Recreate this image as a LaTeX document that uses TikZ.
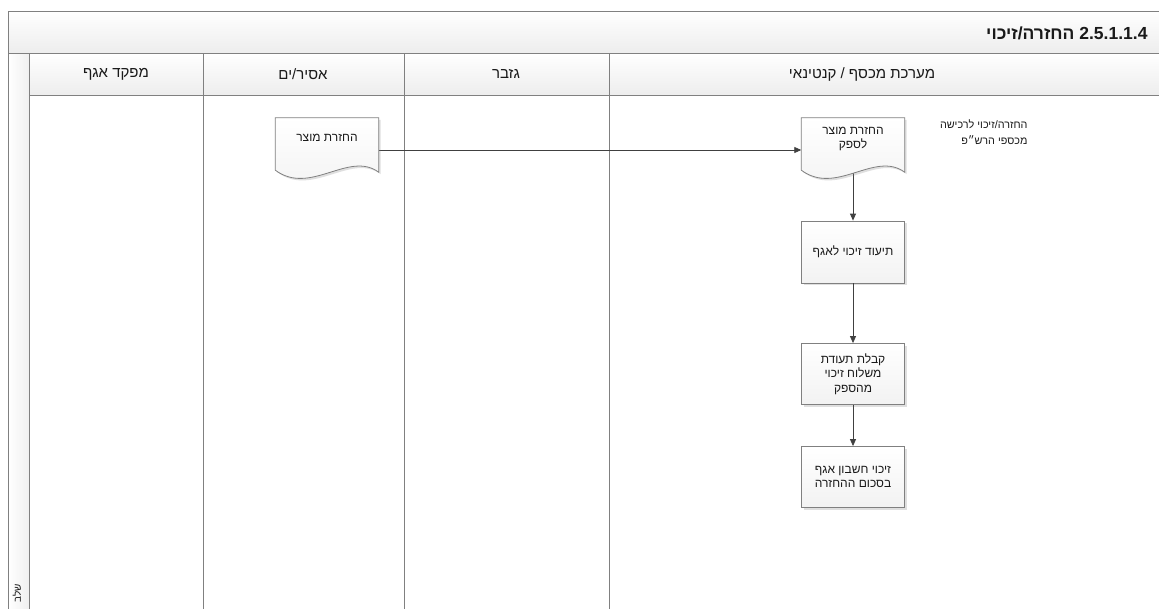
\documentclass[tikz,border=0pt]{standalone}
\usepackage{fontspec}
\setmainfont{Liberation Sans}
\newfontfamily\heb[Script=Hebrew]{Liberation Sans}
\TeXXeTstate=1
\usetikzlibrary{arrows.meta,shadows,calc}
\definecolor{linegray}{HTML}{808080}
\definecolor{arrowgray}{HTML}{404040}
\definecolor{textgray}{HTML}{1A1A1A}
\begin{document}
\begin{tikzpicture}[x=1pt,y=-1pt,
  frame/.style={draw=linegray,line width=0.9pt},
  bar/.style={frame,top color=white,bottom color=gray!14},
  lanetext/.style={font=\heb\fontsize{15}{17}\selectfont,text=textgray},
  boxtext/.style={font=\heb\fontsize{12}{14.5}\selectfont,text=textgray,align=center},
  procbox/.style={draw=linegray,line width=0.8pt,top color=white,bottom color=gray!10,
    minimum width=103pt,inner sep=0pt,boxtext,
    drop shadow={shadow xshift=2pt,shadow yshift=-2pt,opacity=0.25}},
  docnode/.style={minimum width=103pt,minimum height=52pt,inner sep=0pt},
  docshape/.style={draw=linegray,line width=0.8pt,top color=white,bottom color=gray!10,
    drop shadow={shadow xshift=2pt,shadow yshift=-2pt,opacity=0.25}},
  arr/.style={draw=arrowgray,line width=0.8pt,-{Triangle[length=7pt,width=6pt]}}
]
\useasboundingbox (0,0) rectangle (1159,608);
\fill[white] (0,0) rectangle (1159,608);
% title bar
\path[bar] (8,11) rectangle (1175,53);
\node[anchor=east,font=\heb\bfseries\fontsize{17.5}{19}\selectfont,text=textgray] (title) at (1151,33)
  {\beginR\beginL 2.5.1.1.4\endL{} החזרה/זיכוי\endR};
% left strip and header row
\path[frame,left color=white,right color=gray!12] (8,53) rectangle (29,615);
\path[bar] (29,53) rectangle (1175,95);
% lane separators
\draw[frame] (29,95) -- (29,615);
\draw[frame] (203,53) -- (203,615);
\draw[frame] (404,53) -- (404,615);
\draw[frame] (609,53) -- (609,615);
% lane titles
\node[lanetext] (l1) at (116,74) {\beginR מפקד אגף\endR};
\node[lanetext] (l2) at (303,74) {\beginR אסיר/ים\endR};
\node[lanetext] (l3) at (506,74) {\beginR גזבר\endR};
\node[lanetext] (l4) at (862,74) {\beginR מערכת מכסף / קנטינאי\endR};
\node[font=\heb\fontsize{10}{10}\selectfont,text=textgray,rotate=90] (stage) at (17,593) {\beginR שלב\endR};
% note
\node[anchor=north east,font=\heb\fontsize{10.8}{16}\selectfont,text=textgray,align=right] (note) at (1031,116)
  {\beginR החזרה/זיכוי לרכישה\endR\\\beginR מכספי הרש״פ\endR};
% nodes
\node[docnode] (d1) at (327,144) {};
\node[docnode] (d2) at (853,144) {};
\node[procbox,minimum height=62pt] (b2) at (853,252) {\beginR תיעוד זיכוי לאגף\endR};
\node[procbox,minimum height=61pt] (b3) at (853,374) {\beginR קבלת תעודת\endR\\\beginR משלוח זיכוי\endR\\\beginR מהספק\endR};
\node[procbox,minimum height=61pt] (b4) at (853,477) {\beginR זיכוי חשבון אגף\endR\\\beginR בסכום ההחזרה\endR};
% connectors
\draw[arr] ($(d1.east)+(0,6)$) -- ($(d2.west)+(0,6)$);
\draw[arr] (d2.south) -- (b2.north);
\draw[arr] (b2.south) -- (b3.north);
\draw[arr] (b3.south) -- (b4.north);
% document shapes
\foreach \d in {d1,d2}{
  \path[docshape] (\d.north west) -- (\d.north east) -- ($(\d.south east)+(0,2)$)
    .. controls ($(\d.south east)+(-30,-20)$) and ($(\d.south west)+(35,26)$) .. (\d.south west) -- cycle;
}
\node[boxtext] (t1) at ($(d1.center)+(0,-6)$) {\beginR החזרת מוצר\endR};
\node[boxtext] (t2) at ($(d2.center)+(0,-5)$) {\beginR החזרת מוצר\endR\\\beginR לספק\endR};
\end{tikzpicture}
\end{document}
